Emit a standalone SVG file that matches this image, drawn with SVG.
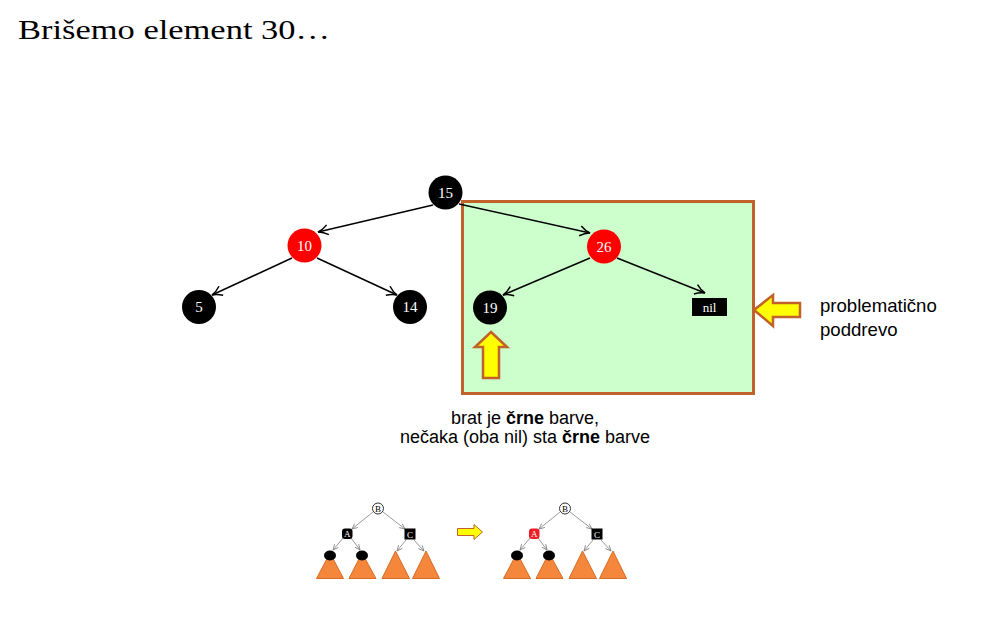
<svg xmlns="http://www.w3.org/2000/svg" width="985" height="621" viewBox="0 0 985 621">
<defs>
<marker id="arr" markerUnits="userSpaceOnUse" markerWidth="14" markerHeight="14" refX="11" refY="6" orient="auto">
<path d="M1,1 Q6,5 11,6 Q6,7 1,11" fill="none" stroke="#000" stroke-width="1.5"/>
</marker>
<marker id="sarr" markerUnits="userSpaceOnUse" markerWidth="8" markerHeight="8" refX="6" refY="3" orient="auto">
<path d="M0.5,0.5 L6,3 L0.5,5.5" fill="none" stroke="#808080" stroke-width="0.8"/>
</marker>
</defs>
<style>
.title{font-family:"Liberation Serif","DejaVu Serif",serif;font-size:27px;fill:#000}
.txt{font-family:"Liberation Sans",Arial,sans-serif;font-size:18px;fill:#000}
.edge{stroke:#000;stroke-width:1.5;fill:none;marker-end:url(#arr)}
.sedge{stroke:#808080;stroke-width:0.8;fill:none;marker-end:url(#sarr)}
.nlab{font-family:"Liberation Serif","DejaVu Serif",serif;font-size:15px;fill:#fff;text-anchor:middle}
.slab{font-family:"Liberation Serif","DejaVu Serif",serif;font-size:9px;text-anchor:middle}
.yarrow{fill:#ffff00;stroke:#c0622a;stroke-width:2.5;stroke-linejoin:miter}
.tri{fill:#f5873c;stroke:#d86b24;stroke-width:1}
</style>
<rect width="985" height="621" fill="#fff"/>
<text class="title" x="18" y="39" textLength="312" lengthAdjust="spacingAndGlyphs">Brišemo element 30…</text>

<g id="box">
<rect x="462.5" y="201.5" width="291" height="192" fill="#ccffcc" stroke="#c0622a" stroke-width="3"/>
</g>

<g id="connectors">
<line class="edge" x1="433" y1="205" x2="318" y2="232"/>
<line class="edge" x1="459" y1="204" x2="590" y2="233"/>
<line class="edge" x1="292" y1="258" x2="212" y2="295"/>
<line class="edge" x1="317" y1="258" x2="397" y2="295"/>
<line class="edge" x1="590" y1="258" x2="503" y2="295"/>
<line class="edge" x1="617" y1="258" x2="705" y2="293"/>
</g>

<g id="n15"><circle cx="445.5" cy="192.5" r="17" fill="#000"/><text class="nlab" x="445.5" y="197.5">15</text></g>
<g id="n10"><circle cx="304.5" cy="245.5" r="17" fill="#ff0000"/><text class="nlab" x="304.5" y="250.5">10</text></g>
<g id="n5"><circle cx="199" cy="307" r="17" fill="#000"/><text class="nlab" x="199" y="312">5</text></g>
<g id="n14"><circle cx="410" cy="307" r="17" fill="#000"/><text class="nlab" x="410" y="312">14</text></g>
<g id="n26"><circle cx="604" cy="246.5" r="17" fill="#ff0000"/><text class="nlab" x="604" y="251.5">26</text></g>
<g id="n19"><circle cx="490" cy="307.5" r="17" fill="#000"/><text class="nlab" x="490" y="312.5">19</text></g>
<g id="nnil"><rect x="692" y="298" width="35" height="18" fill="#000"/><text class="nlab" x="709.5" y="311.5" style="font-size:13px">nil</text></g>

<g id="arrow-up"><polygon class="yarrow" points="491,332 507,347 499,347 499,378 483,378 483,347 475,347"/></g>
<g id="arrow-left"><polygon class="yarrow" points="754,310 773,295 773,303 800,303 800,317 773,317 773,326"/></g>

<g id="label-problem">
<text class="txt" x="820" y="312" style="font-size:18.6px">problematično</text>
<text class="txt" x="820" y="336" style="font-size:18.6px">poddrevo</text>
</g>
<g id="label-brat">
<text class="txt" x="525" y="424" text-anchor="middle">brat je <tspan font-weight="bold">črne</tspan> barve,</text>
<text class="txt" x="525" y="443" text-anchor="middle">nečaka (oba nil) sta <tspan font-weight="bold">črne</tspan> barve</text>
</g>

<g id="small-before">
<g id="sb-edges">
<line class="sedge" x1="373" y1="512" x2="352" y2="529"/>
<line class="sedge" x1="383" y1="512" x2="405" y2="529"/>
<line class="sedge" x1="343" y1="538" x2="333" y2="550"/>
<line class="sedge" x1="351" y1="538" x2="360" y2="550"/>
<line class="sedge" x1="406" y1="540" x2="397" y2="551"/>
<line class="sedge" x1="414" y1="540" x2="424" y2="551"/>
</g>
<polygon class="tri" points="330,553 343.5,578.5 316.5,578.5"/>
<polygon class="tri" points="362,553 376,578.5 349,578.5"/>
<polygon class="tri" points="395.5,551 409.5,578.5 382,578.5"/>
<polygon class="tri" points="426,551 439.5,578.5 412.5,578.5"/>
<ellipse cx="330" cy="555.5" rx="6" ry="5" fill="#000"/>
<ellipse cx="362" cy="555.5" rx="6" ry="5" fill="#000"/>
<circle cx="378" cy="508.5" r="5.5" fill="#fff" stroke="#333" stroke-width="1"/>
<text class="slab" x="378" y="511.5" fill="#000">B</text>
<rect x="342" y="528.5" width="10.5" height="10.5" rx="3" fill="#000"/>
<text class="slab" x="347.3" y="537" fill="#fff">A</text>
<rect x="404.5" y="528.5" width="11" height="11" fill="#000"/>
<text class="slab" x="410" y="537.5" fill="#fff">C</text>
</g>

<g id="arrow-small"><polygon points="457.5,528.5 474,528.5 474,524.5 482.5,532 474,539.5 474,535.5 457.5,535.5" fill="#ffff00" stroke="#c0622a" stroke-width="1"/></g>

<g id="small-after">
<g id="sa-edges">
<line class="sedge" x1="560" y1="512" x2="539" y2="529"/>
<line class="sedge" x1="570" y1="512" x2="592" y2="529"/>
<line class="sedge" x1="530" y1="538" x2="520" y2="550"/>
<line class="sedge" x1="538" y1="538" x2="547" y2="550"/>
<line class="sedge" x1="593" y1="540" x2="584" y2="551"/>
<line class="sedge" x1="601" y1="540" x2="611" y2="551"/>
</g>
<polygon class="tri" points="517,553 530.5,578.5 503.5,578.5"/>
<polygon class="tri" points="549,553 563,578.5 536,578.5"/>
<polygon class="tri" points="582.5,551 596.5,578.5 569,578.5"/>
<polygon class="tri" points="613,551 626.5,578.5 599.5,578.5"/>
<ellipse cx="517" cy="555.5" rx="6" ry="5" fill="#000"/>
<ellipse cx="549" cy="555.5" rx="6" ry="5" fill="#000"/>
<circle cx="565" cy="508.5" r="5.5" fill="#fff" stroke="#333" stroke-width="1"/>
<text class="slab" x="565" y="511.5" fill="#000">B</text>
<rect x="529" y="528.5" width="10.5" height="10.5" rx="3" fill="#ee1c24"/>
<text class="slab" x="534.3" y="537" fill="#fff">A</text>
<rect x="591.5" y="528.5" width="11" height="11" fill="#000"/>
<text class="slab" x="597" y="537.5" fill="#fff">C</text>
</g>
</svg>
